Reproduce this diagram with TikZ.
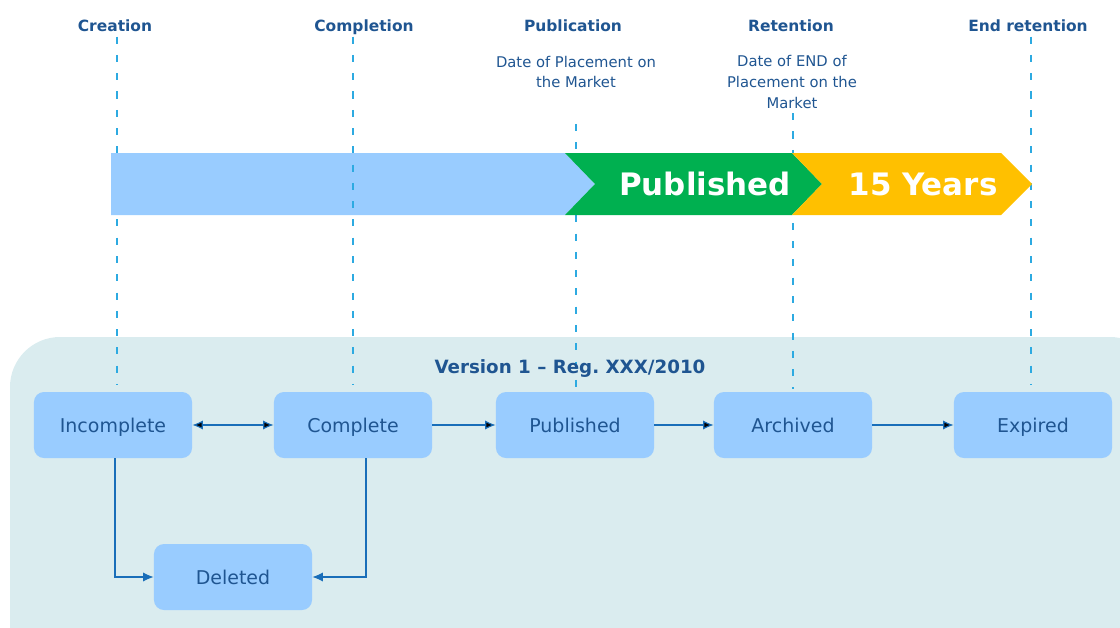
\documentclass[tikz,border=0pt]{standalone}
\usepackage{fontspec}
\setmainfont{DejaVu Sans}
\usepackage{tikz}
\usetikzlibrary{arrows.meta}

\definecolor{navytext}{RGB}{31,85,145}
\definecolor{boxblue}{RGB}{153,204,255}
\definecolor{panelbg}{RGB}{218,236,239}
\definecolor{guideblue}{RGB}{45,170,225}
\definecolor{arrowblue}{RGB}{25,110,185}
\definecolor{pubgreen}{RGB}{0,176,80}
\definecolor{retyellow}{RGB}{255,192,0}

\pgfdeclarelayer{panel}
\pgfdeclarelayer{guides}
\pgfsetlayers{panel,guides,main}

\begin{document}
\begin{tikzpicture}[x=0.025cm,y=-0.025cm,
    state/.style={rectangle,rounded corners=0.25cm,fill=boxblue,text=navytext,
        minimum width=3.95cm,minimum height=1.65cm,text height=11pt,text depth=0pt,
        font=\fontsize{13.5}{16}\selectfont},
    milestone/.style={text=navytext,text height=9.5pt,text depth=0pt,font=\bfseries\fontsize{11}{13}\selectfont},
    datenote/.style={text=navytext,align=center,font=\fontsize{10.5}{14.6}\selectfont},
    bartext/.style={text=white,font=\bfseries\fontsize{22}{26}\selectfont},
    guide/.style={draw=guideblue,line width=1.6pt,dash pattern=on 5pt off 8pt},
    flow/.style={draw=arrowblue,line width=0.8pt,-{Latex[length=7.5pt,width=6.5pt]}}]
\useasboundingbox (0,0) rectangle (1120,627);

% milestones on top
\node[milestone] (creation) at (115,25) {Creation};
\node[milestone] (completion) at (364,25) {Completion};
\node[milestone] (publication) at (573,25) {Publication};
\node[milestone] (retention) at (791,25) {Retention};
\node[milestone] (endret) at (1028,25) {End retention};
\node[datenote] (pubdate) at (576,72) {Date of Placement on\\the Market};
\node[datenote] (retdate) at (792,82) {Date of END of\\Placement on the\\Market};

% time bar
\fill[boxblue] (111,153) -- (565,153) -- (595,184) -- (565,215) -- (111,215) -- cycle;
\fill[pubgreen] (565,153) -- (792,153) -- (822,184) -- (792,215) -- (565,215) -- (595,184) -- cycle;
\fill[retyellow] (792,153) -- (1001,153) -- (1032,184) -- (1001,215) -- (792,215) -- (822,184) -- cycle;
\node[bartext] (pubtag) at (705,184) {Published};
\node[bartext] (yeartag) at (923,184) {15 Years};

% states
\node[text=navytext,font=\bfseries\fontsize{13}{15}\selectfont] (version) at (570,369) {Version\ 1 -- Reg.\ XXX/2010};
\node[state] (incomplete) at (113,425) {Incomplete};
\node[state] (complete) at (353,425) {Complete};
\node[state] (published) at (575,425) {Published};
\node[state] (archived) at (793,425) {Archived};
\node[state] (expired) at (1033,425) {Expired};
\node[state] (deleted) at (233,577) {Deleted};

\begin{pgfonlayer}{panel}
    \fill[panelbg,rounded corners=1.25cm] (10,337) rectangle (1160,690);
\end{pgfonlayer}

\begin{pgfonlayer}{guides}
    \draw[guide,shorten >=5pt] ([xshift=0.05cm]creation.south) -- ([xshift=0.05cm]creation.south |- incomplete.north);
    \draw[guide,shorten <=22pt,shorten >=2pt] (pubdate.south) -- (pubdate.south |- published.north);
    \draw[guide,shorten >=2pt] ([xshift=0.025cm]retdate.south) -- ([xshift=0.025cm]retdate.south |- archived.north);
    \draw[guide,shorten >=5pt] ([xshift=-0.05cm]expired.north |- endret.south) -- ([xshift=-0.05cm]expired.north);
\end{pgfonlayer}
\draw[guide,shorten >=5pt] (complete.north |- completion.south) -- (complete.north);

% transitions
\path [flow,{Latex[length=7.5pt,width=6.5pt]}-{Latex[length=7.5pt,width=6.5pt]}] (incomplete) edge (complete);
\path [flow] (complete) edge (published);
\path [flow] (published) edge (archived);
\path [flow] (archived) edge (expired);
\draw[flow] ([xshift=0.05cm]incomplete.south) |- (deleted.west);
\draw[flow] ([xshift=0.325cm]complete.south) |- (deleted.east);
\end{tikzpicture}
\end{document}
